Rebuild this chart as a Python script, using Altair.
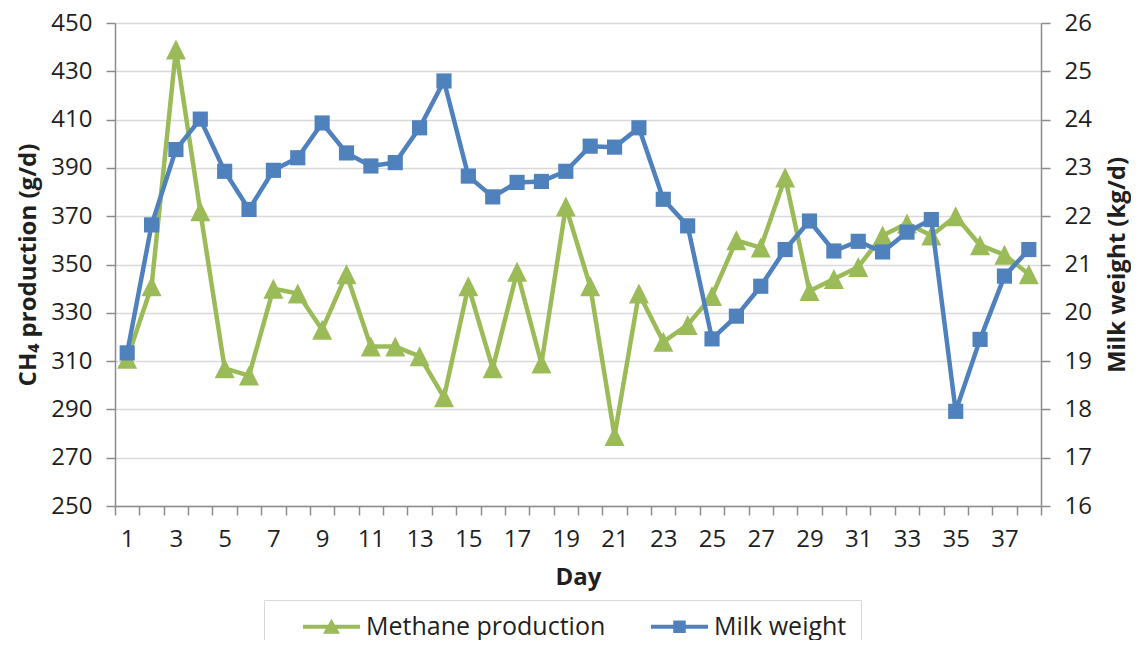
import altair as alt
import pandas as pd

days = list(range(1, 39))
methane = [311, 341, 439, 372, 307, 304, 340, 338, 323, 346, 316, 316, 312, 295,
           341, 307, 347, 309, 374, 341, 279, 338, 318, 325, 337, 360, 357, 386,
           339, 344, 349, 362, 367, 362, 370, 358, 354, 346]
milk = [19.17, 21.82, 23.38, 24.01, 22.93, 22.14, 22.95, 23.21, 23.93, 23.31,
        23.04, 23.11, 23.83, 24.80, 22.83, 22.40, 22.70, 22.72, 22.93, 23.45,
        23.43, 23.83, 22.35, 21.80, 19.46, 19.93, 20.55, 21.31, 21.90, 21.28,
        21.48, 21.26, 21.67, 21.93, 17.96, 19.45, 20.76, 21.31]
left_ticks = [250, 270, 290, 310, 330, 350, 370, 390, 410, 430, 450]
right_ticks = [16, 17, 18, 19, 20, 21, 22, 23, 24, 25, 26]
series_names = ["Methane production", "Milk weight"]
series_colors = ["#9BBB59", "#4F81BD"]
# legend glyphs: a short line with the series marker on it (unit = half symbol size)
legend_paths = [
    "M1,-0.16H5.56V0.16H1Z M3.28,-0.64L3.96,0.56L2.6,0.56Z",
    "M1,-0.16H5.56V0.16H1Z M2.78,-0.5H3.78V0.5H2.78Z",
]

df = pd.DataFrame({"day": days, "methane": methane, "milk": milk})
legend_df = pd.DataFrame({"series": series_names})

FONT = "Open Sans"
TXT = "#1f1f1f"
AX = "#8c8c8c"

x = alt.X(
    "day:O",
    scale=alt.Scale(type="band", paddingInner=0, paddingOuter=0),
    axis=alt.Axis(
        title="Day",
        labelExpr="datum.value % 2 == 1 ? datum.label : ''",
        labelAngle=0,
        tickBand="extent",
        tickSize=9,
        tickWidth=1.5,
        tickColor=AX,
        domainColor=AX,
        domainWidth=1.5,
        labelFontSize=24,
        labelFont=FONT,
        labelColor=TXT,
        labelPadding=12,
        titleFontSize=24,
        titleFont=FONT,
        titleFontWeight="bold",
        titleColor=TXT,
        titlePadding=14,
        grid=False,
    ),
)

common_y_axis = dict(
    tickSize=9,
    tickWidth=1.5,
    tickColor=AX,
    domainColor=AX,
    domainWidth=1.5,
    labelFontSize=24,
    labelFont=FONT,
    labelColor=TXT,
    labelPadding=14,
    titleFontSize=24,
    titleFont=FONT,
    titleFontWeight="bold",
    titleColor=TXT,
)

y_m = alt.Y(
    "methane:Q",
    scale=alt.Scale(domain=[250, 450], nice=False, zero=False),
    axis=alt.Axis(
        orient="left",
        values=left_ticks,
        title="CH₄ production (g/d)",
        grid=True,
        gridColor="#d9d9d9",
        gridWidth=1.5,
        titlePadding=10,
        **common_y_axis,
    ),
)
y_k = alt.Y(
    "milk:Q",
    scale=alt.Scale(domain=[16, 26], nice=False, zero=False),
    axis=alt.Axis(
        orient="right",
        values=right_ticks,
        title="Milk weight (kg/d)",
        grid=False,
        titleAngle=270,
        titleBaseline="top",
        titlePadding=14,
        **common_y_axis,
    ),
)

base = alt.Chart(df)
m_line = base.mark_line(color=series_colors[0], strokeWidth=4.5, strokeJoin="round").encode(x=x, y=y_m)
m_pt = base.mark_point(
    filled=True, shape="M0,-1L1,1L-1,1Z", size=400, color=series_colors[0], opacity=1, strokeWidth=0
).encode(x=x, y=y_m)
k_line = base.mark_line(color=series_colors[1], strokeWidth=4.5, strokeJoin="round").encode(x=x, y=y_k)
k_pt = base.mark_point(
    filled=True, shape="square", size=230, color=series_colors[1], opacity=1, strokeWidth=0
).encode(x=x, y=y_k)

leg = alt.Legend(
    title=None,
    orient="none",
    legendX=149,
    legendY=577,
    direction="horizontal",
    labelFontSize=25,
    labelFont=FONT,
    labelColor=TXT,
    labelLimit=500,
    labelOffset=63,
    symbolSize=625,
    symbolStrokeWidth=0,
    symbolOpacity=1,
    strokeColor="#d9d9d9",
    padding=14,
    columnPadding=20,
)
legend_layer = alt.Chart(legend_df).mark_point(filled=True, opacity=0, strokeWidth=0).encode(
    color=alt.Color("series:N", scale=alt.Scale(domain=series_names, range=series_colors), legend=leg),
    shape=alt.Shape("series:N", scale=alt.Scale(domain=series_names, range=legend_paths), legend=leg),
)

chart = (
    alt.layer(alt.layer(m_line, m_pt), alt.layer(k_line, k_pt), legend_layer)
    .resolve_scale(y="independent")
    .properties(
        width=926,
        height=483,
        autosize=alt.AutoSizeParams(type="none"),
        padding={"left": 107, "top": 15, "right": 90, "bottom": 134},
        background="white",
    )
    .configure_view(stroke=None)
)

chart.save("out.html", embed_options={"renderer": "svg", "actions": False})
